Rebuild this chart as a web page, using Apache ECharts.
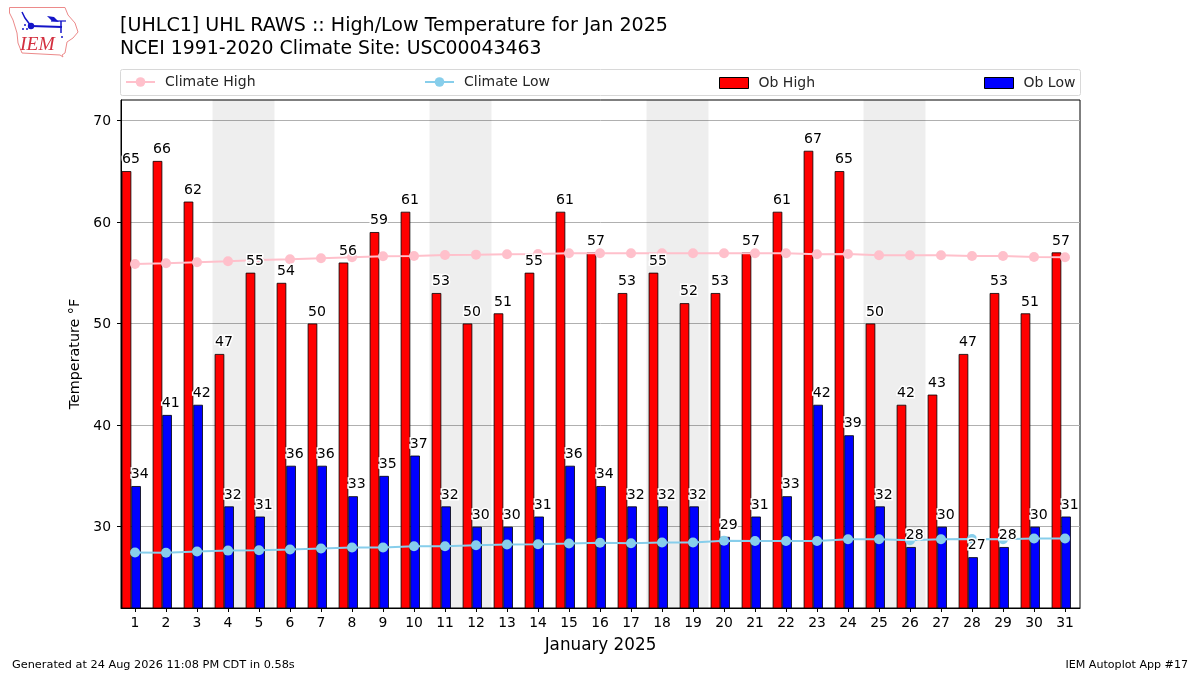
<!DOCTYPE html>
<html>
<head>
<meta charset="utf-8">
<style>html,body{margin:0;padding:0;background:#fff}#c{width:1200px;height:675px}</style>
<script src="https://cdn.jsdelivr.net/npm/echarts@6/dist/echarts.min.js"></script>
</head>
<body>
<div id="c"></div>
<script>
var days = [1,2,3,4,5,6,7,8,9,10,11,12,13,14,15,16,17,18,19,20,21,22,23,24,25,26,27,28,29,30,31];
var obHigh = [65,66,62,47,55,54,50,56,59,61,53,50,51,55,61,57,53,55,52,53,57,61,67,65,50,42,43,47,53,51,57];
var obLow = [34,41,42,32,31,36,36,33,35,37,32,30,30,31,36,34,32,32,32,29,31,33,42,39,32,28,30,27,28,30,31];
var climateHigh = [55.86,55.93,56.03,56.13,56.24,56.32,56.42,56.52,56.62,56.65,56.75,56.78,56.82,56.85,56.92,56.92,56.92,56.92,56.92,56.92,56.92,56.92,56.82,56.85,56.72,56.72,56.72,56.65,56.65,56.55,56.52];
var climateLow = [27.46,27.43,27.56,27.65,27.68,27.75,27.85,27.95,27.95,28.08,28.08,28.18,28.25,28.28,28.34,28.42,28.38,28.44,28.44,28.62,28.6,28.6,28.6,28.77,28.77,28.67,28.77,28.8,28.77,28.84,28.84];
var weekends = [[4,5],[11,12],[18,19],[25,26]];
var yTicks = [30,40,50,60,70];

var FONT = '"DejaVu Sans", sans-serif';
var barShift = 0.12;
var highLabelShift = 0.13;
var lowLabelShift = -0.15;
var pairs = function (vals, shift) {
  return vals.map(function (v, i) { return [days[i] - shift, v]; });
};
var labelSeries = function (name, vals, shift) {
  return {
    name: name, type: 'scatter', z: 5, silent: true, data: pairs(vals, shift),
    symbol: 'circle', symbolSize: 1, itemStyle: { color: 'transparent', opacity: 1 },
    label: {
      show: true, position: 'top', distance: 4,
      color: '#000', fontFamily: FONT, fontSize: 14.1,
      textBorderColor: '#fff', textBorderWidth: 3,
      formatter: function (p) { return p.value[1]; }
    }
  };
};
var legendAt = function (name, left, isBar) {
  var o = {
    data: [{ name: name }], left: left, top: isBar ? 76 : 75, padding: 0,
    itemWidth: 29, itemHeight: isBar ? 11 : 12, selectedMode: false,
    textStyle: { fontFamily: FONT, fontSize: 14, color: '#262626', padding: [0, 0, 0, 5] }
  };
  if (isBar) { o.data[0].icon = 'rect'; o.data[0].itemStyle = { borderWidth: 1, borderColor: '#000' }; }
  return o;
};
var chart = echarts.init(document.getElementById('c'), null, { renderer: 'canvas' });
chart.setOption({
  animation: false,
  backgroundColor: '#fff',
  textStyle: { fontFamily: FONT },
  title: [
    { text: '[UHLC1] UHL RAWS :: High/Low Temperature for Jan 2025', left: 120, top: 17, padding: 0,
      textStyle: { fontFamily: FONT, fontWeight: 'normal', fontSize: 19.08, color: '#000' } },
    { text: 'NCEI 1991-2020 Climate Site: USC00043463', left: 120, top: 40, padding: 0,
      textStyle: { fontFamily: FONT, fontWeight: 'normal', fontSize: 18.87, color: '#000' } }
  ],
  legend: [
    legendAt('Climate High', 125, false),
    legendAt('Climate Low', 424, false),
    legendAt('Ob High', 719, true),
    legendAt('Ob Low', 984, true)
  ],
  grid: { left: 121, top: 100, width: 959, height: 508, show: true, borderColor: '#000', borderWidth: 1, backgroundColor: 'transparent' },
  xAxis: {
    type: 'value', min: 0.548, max: 31.484,
    name: 'January 2025', nameLocation: 'middle', nameGap: 29,
    nameTextStyle: { fontFamily: FONT, fontSize: 16.8, color: '#000' },
    axisLine: { show: true, lineStyle: { color: '#000', width: 1 } },
    axisTick: { show: true, length: 4, customValues: days, lineStyle: { color: '#000', width: 1 } },
    axisLabel: { customValues: days, color: '#000', fontFamily: FONT, fontSize: 13.9, margin: 8 },
    splitLine: { show: false }
  },
  yAxis: {
    type: 'value', min: 22, max: 72,
    name: 'Temperature °F', nameLocation: 'middle', nameGap: 32,
    nameTextStyle: { fontFamily: FONT, fontSize: 14.3, color: '#000' },
    axisLine: { show: true, lineStyle: { color: '#000', width: 1 } },
    axisTick: { show: true, length: 4, customValues: yTicks, lineStyle: { color: '#000', width: 1 } },
    axisLabel: {
      customValues: yTicks, color: '#000', fontFamily: FONT, fontSize: 13.9, margin: 10,
      formatter: '{a|{value}}',
      rich: { a: { color: '#000', fontFamily: FONT, fontSize: 13.9, padding: [2, 0, 0, 0] } }
    },
    splitLine: { show: true, customValues: yTicks, lineStyle: { color: '#b0b0b0', width: 1 } }
  },
  series: [
    {
      name: 'Ob High', type: 'bar', z: 2, data: pairs(obHigh, barShift),
      barWidth: 9.6, barGap: '0%',
      itemStyle: { color: '#ff0000', borderColor: '#000', borderWidth: 0.8 },
      markArea: {
        silent: true, z: 1,
        itemStyle: { color: 'rgba(0,0,0,0.067)' },
        data: weekends.map(function (w) { return [{ xAxis: w[0] - 0.5 }, { xAxis: w[1] + 0.5 }]; })
      }
    },
    {
      name: 'Ob Low', type: 'bar', z: 2, data: pairs(obLow, barShift),
      barWidth: 9.6, barGap: '0%',
      itemStyle: { color: '#0000ff', borderColor: '#000', borderWidth: 0.8 }
    },
    {
      name: 'Climate High', type: 'line', z: 3, data: pairs(climateHigh, 0),
      symbol: 'circle', symbolSize: 10, showSymbol: true,
      lineStyle: { color: '#ffc0cb', width: 2 }, itemStyle: { color: '#ffc0cb' }
    },
    {
      name: 'Climate Low', type: 'line', z: 3, data: pairs(climateLow, 0),
      symbol: 'circle', symbolSize: 10, showSymbol: true,
      lineStyle: { color: '#87ceeb', width: 2 }, itemStyle: { color: '#87ceeb' }
    },
    labelSeries('High values', obHigh, highLabelShift),
    labelSeries('Low values', obLow, lowLabelShift)
  ],
  graphic: [
    { type: 'rect', shape: { x: 120.5, y: 69.5, width: 960, height: 26, r: 2 }, style: { fill: 'none', stroke: '#d8d8d8', lineWidth: 1 }, silent: true },
    { type: 'text', left: 12, top: 660, style: { text: 'Generated at 24 Aug 2026 11:08 PM CDT in 0.58s', font: '11.3px "DejaVu Sans"', fill: '#000' } },
    { type: 'text', right: 12, top: 660, style: { text: 'IEM Autoplot App #17', font: '11.1px "DejaVu Sans"', fill: '#000' } },
    { type: 'polygon', shape: { points: [[9.5,7.5],[65,7.5],[68,15],[75,23],[78,32],[73,38],[67,42],[65,53],[62,55],[63,57],[60,55],[22,53],[18,43],[17,33],[13,20],[9.5,13]] }, style: { fill: '#fff', stroke: '#ec8a8a', lineWidth: 1 } },
    { type: 'text', left: 20, top: 35, style: { text: 'IEM', font: 'italic 19.5px "Liberation Serif"', fill: '#d32f3f' } },
    { type: 'polyline', shape: { points: [[31,26],[62,27]] }, style: { stroke: '#1414c8', fill: 'none', lineWidth: 2 } },
    { type: 'polyline', shape: { points: [[31,26],[25,18],[22,12]] }, style: { stroke: '#1414c8', fill: 'none', lineWidth: 1.5 } },
    { type: 'polyline', shape: { points: [[51,21],[66,21]] }, style: { stroke: '#1414c8', fill: 'none', lineWidth: 1.2 } },
    { type: 'polyline', shape: { points: [[61,21],[61,33]] }, style: { stroke: '#1414c8', fill: 'none', lineWidth: 1.5 } },
    { type: 'polygon', shape: { points: [[47,16],[54,17],[59,22],[52,21]] }, style: { fill: '#1414c8' } },
    { type: 'circle', shape: { cx: 31, cy: 26, r: 3.2 }, style: { fill: '#1414c8' } },
    { type: 'circle', shape: { cx: 25, cy: 25, r: 1 }, style: { fill: '#1414c8' } },
    { type: 'circle', shape: { cx: 23, cy: 29, r: 1 }, style: { fill: '#1414c8' } },
    { type: 'circle', shape: { cx: 27, cy: 29, r: 1 }, style: { fill: '#1414c8' } },
    { type: 'circle', shape: { cx: 62, cy: 37, r: 1 }, style: { fill: '#1414c8' } }
  ]
});
</script>
</body>
</html>
